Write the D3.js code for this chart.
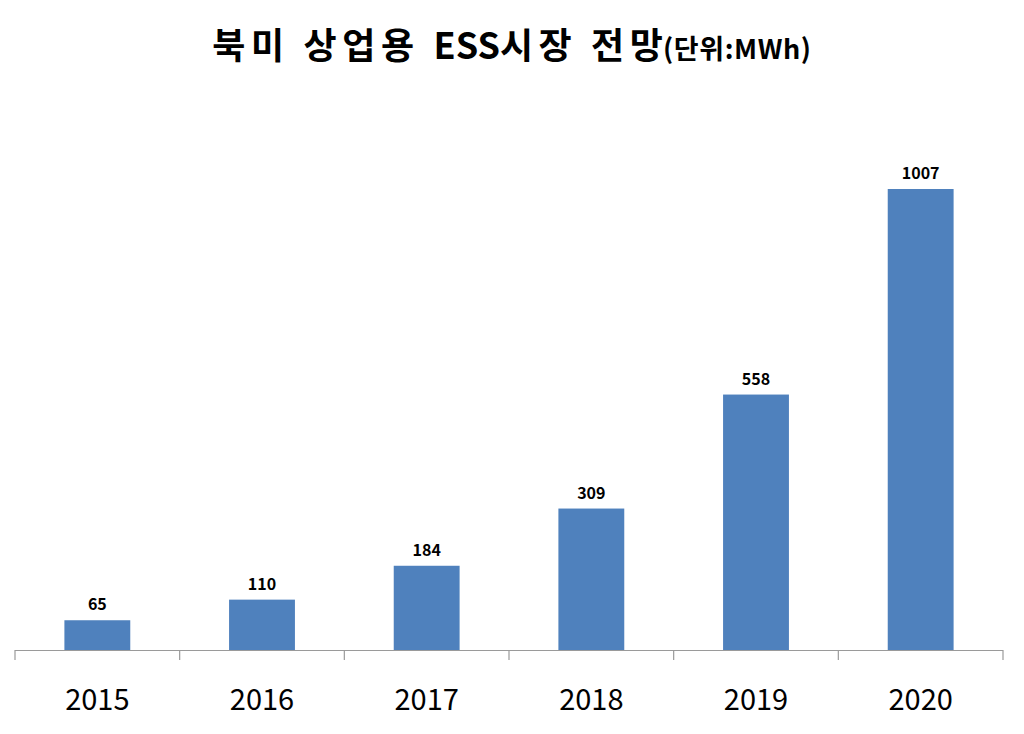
<!DOCTYPE html>
<html><head><meta charset="utf-8">
<script src="https://cdn.jsdelivr.net/npm/d3@7"></script>
<style>body{margin:0;background:#fff}svg{display:block}</style>
</head><body>
<svg id="c" width="1024" height="734"></svg>
<script>
const categories = ["2015","2016","2017","2018","2019","2020"];
const values = [65,110,184,309,558,1007];
const titleParts = ["북미 상업용 ", "ESS", "시장 전", "망"];
const titleUnit = "(단위:MWh)";

const svg = d3.select("#c");
const W = 1024, H = 734;
const left = 15, right = 1003, baseY = 650;
const x = d3.scaleBand().domain(categories).range([left, right]).paddingInner(0.6).paddingOuter(0.3);
const y = d3.scaleLinear().domain([0, 1007]).range([baseY, 189]);

// title
const t = svg.append("text").attr("x", 512).attr("y", 59).attr("text-anchor","middle")
  .style("font-family","'Noto Sans CJK KR', sans-serif").style("font-weight","bold").attr("fill","#000");
titleParts.forEach((p,i)=>{
  t.append("tspan").style("font-size","36px").style("letter-spacing", (i===1||i===3) ? "0px" : "5.6px").text(p);
});
t.append("tspan").style("font-size","27px").style("letter-spacing","0.6px").text(titleUnit);

// bars
svg.append("g").selectAll("rect").data(values).join("rect")
  .attr("x",(d,i)=>x(categories[i])).attr("width",x.bandwidth())
  .attr("y",d=>y(d)).attr("height",d=>baseY-y(d)).attr("fill","#4F81BD");

// value labels
svg.append("g").selectAll("text").data(values).join("text")
  .attr("x",(d,i)=>x(categories[i])+x.bandwidth()/2).attr("y",d=>y(d)-10)
  .attr("text-anchor","middle").style("font-family","'Noto Sans CJK KR', sans-serif")
  .style("font-weight","bold").style("font-size","16px").attr("fill","#000").text(d=>d);

// axis
const xAxis = d3.axisBottom(x).tickSize(0).tickPadding(0);
const ag = svg.append("g").attr("transform",`translate(0,${baseY})`).call(xAxis);
ag.select(".domain").remove();
ag.selectAll(".tick text").remove();
const step = x.step();
const boundaries = d3.range(categories.length+1).map(i => left + i*step);
svg.append("line").attr("x1",left).attr("x2",right).attr("y1",baseY+0.5).attr("y2",baseY+0.5)
  .attr("stroke","#9a9a9a").attr("stroke-width",1.2);
svg.append("g").selectAll("line").data(boundaries).join("line")
  .attr("x1",d=>d).attr("x2",d=>d).attr("y1",baseY).attr("y2",baseY+10)
  .attr("stroke","#9a9a9a").attr("stroke-width",1.2);
svg.append("g").selectAll("text").data(categories).join("text")
  .attr("x",d=>x(d)+x.bandwidth()/2).attr("y",710)
  .attr("text-anchor","middle").style("font-family","'Noto Sans CJK KR', sans-serif")
  .style("font-size","29px").attr("fill","#000").text(d=>d);
</script>
</body></html>
